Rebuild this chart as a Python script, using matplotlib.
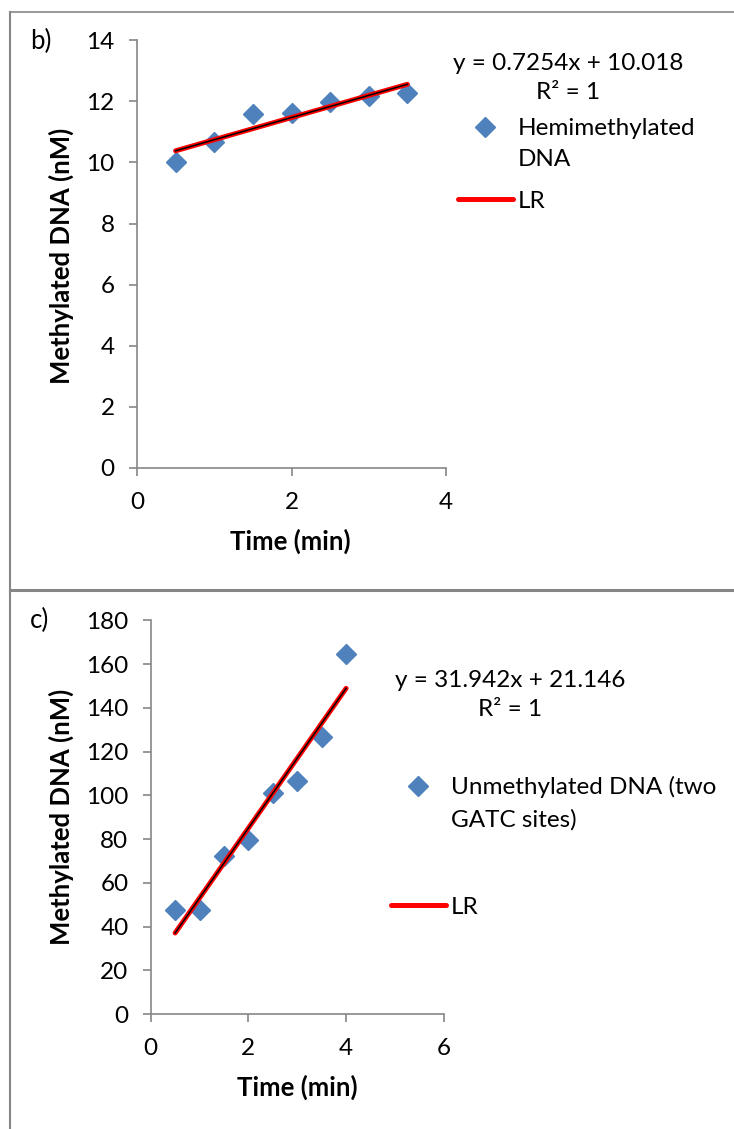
import matplotlib
matplotlib.use("Agg")
import matplotlib.pyplot as plt
from matplotlib.lines import Line2D
from matplotlib.legend_handler import HandlerLine2D

plt.rcParams["font.family"] = ["Lato", "DejaVu Sans"]

W, H = 734, 1129
BLUE = "#4F81BD"
GRAY = "#868686"
FS = 17.5
FS_LAB = 18.5

# b) hemimethylated DNA
time_b = [0.5, 1.0, 1.5, 2.0, 2.5, 3.0, 3.5]
dna_b = [10.02, 10.68, 11.58, 11.61, 11.99, 12.17, 12.28]
slope_b, icept_b, r2_b = 0.7254, 10.018, 1
label_b = "Hemimethylated\nDNA"

# c) unmethylated DNA (two GATC sites)
time_c = [0.5, 1.0, 1.5, 2.0, 2.5, 3.0, 3.5, 4.0]
dna_c = [47.6, 47.6, 72.3, 79.6, 101.3, 106.6, 126.8, 164.4]
slope_c, icept_c, r2_c = 31.942, 21.146, 1
label_c = "Unmethylated DNA (two\nGATC sites)"

fig = plt.figure(figsize=(W / 100, H / 100), dpi=100)


def fx(px):
    return px / W


def fy(py):
    return 1 - py / H


class FirstLineHandler(HandlerLine2D):
    """Marker handle lifted so it sits beside the first line of a 2-line label."""

    def __init__(self, lift, **kw):
        super().__init__(**kw)
        self.lift = lift

    def create_artists(self, legend, orig_handle, xdescent, ydescent,
                       width, height, fontsize, trans):
        return super().create_artists(legend, orig_handle, xdescent,
                                      ydescent - 2 * self.lift, width, height,
                                      fontsize, trans)


def panel(box, x, y, slope, icept, r2, xmax, xstep, ymax, ystep, label,
          tag, tag_pos, eq_pos, leg_pos, leg_spacing, xlab_pos, ylab_pos):
    l, t, r, b = box
    ax = fig.add_axes([fx(l), fy(b), (r - l) / W, (b - t) / H])

    pts, = ax.plot(x, y, ls="none", marker="D", ms=10, color=BLUE,
                   mec=BLUE, zorder=2)
    ends = [x[0], x[-1]]
    fit = [slope * v + icept for v in ends]
    lr, = ax.plot(ends, fit, color="#FF0000", lw=3.6, solid_capstyle="round",
                  zorder=3)
    ax.plot(ends, fit, color="black", lw=1.1, zorder=4)

    ax.set_xlim(0, xmax)
    ax.set_ylim(0, ymax)
    ax.set_xticks(range(0, xmax + 1, xstep))
    ax.set_yticks(range(0, ymax + 1, ystep))
    for side in ("top", "right"):
        ax.spines[side].set_visible(False)
    for side in ("left", "bottom"):
        ax.spines[side].set_color(GRAY)
        ax.spines[side].set_linewidth(1.2)
    ax.tick_params(direction="out", length=6, width=1.2, color=GRAY,
                   labelsize=FS)
    ax.tick_params(axis="y", pad=10)
    ax.tick_params(axis="x", pad=11)

    ax.set_xlabel("Time (min)", fontsize=FS_LAB, fontweight="bold")
    ax.set_ylabel("Methylated DNA (nM)", fontsize=FS_LAB, fontweight="bold")
    ax.xaxis.set_label_coords((xlab_pos[0] - l) / (r - l),
                              (b - xlab_pos[1]) / (b - t))
    ax.yaxis.set_label_coords((ylab_pos[0] - l) / (r - l),
                              (b - ylab_pos[1]) / (b - t))
    ax.xaxis.label.set_va("center")
    ax.yaxis.label.set_va("center")

    fig.text(fx(tag_pos[0]), fy(tag_pos[1]), tag, fontsize=FS + 1,
             ha="left", va="center")
    fig.text(fx(eq_pos[0]), fy(eq_pos[1]),
             f"y = {slope}x + {icept}\nR² = {r2}", fontsize=FS,
             ha="center", va="center", multialignment="center",
             linespacing=1.44)

    leg = ax.legend([pts, lr], [label, "LR"], loc="upper left",
                    bbox_to_anchor=(fx(leg_pos[0]), fy(leg_pos[1])),
                    bbox_transform=fig.transFigure, frameon=False,
                    numpoints=1, fontsize=FS, handlelength=2.25,
                    handletextpad=0.2, borderpad=0, borderaxespad=0,
                    labelspacing=leg_spacing,
                    handler_map={pts: FirstLineHandler(lift=12)})
    for txt in leg.get_texts():
        txt.set_linespacing(1.6)
    return ax


panel((137, 40.2, 446, 468), time_b, dna_b, slope_b, icept_b, r2_b,
      4, 2, 14, 2, label_b, "b)", (30, 41), (568, 78), (458, 118), 0.85,
      (290, 541), (61, 256))
panel((150.7, 620.3, 443.8, 1014.2), time_c, dna_c, slope_c, icept_c, r2_c,
      6, 2, 180, 20, label_c, "c)", (30, 620), (510, 695), (391, 776), 2.75,
      (297, 1087), (61, 817))

# panel frames
fig.add_artist(Line2D([fx(10), 1], [fy(12), fy(12)], color=GRAY, lw=1.2))
fig.add_artist(Line2D([fx(10), 1], [fy(589.5), fy(589.5)], color=GRAY, lw=2.2))
fig.add_artist(Line2D([fx(10), fx(10)], [fy(12), 0], color=GRAY, lw=1.5))

fig.savefig("out.png", dpi=100)
